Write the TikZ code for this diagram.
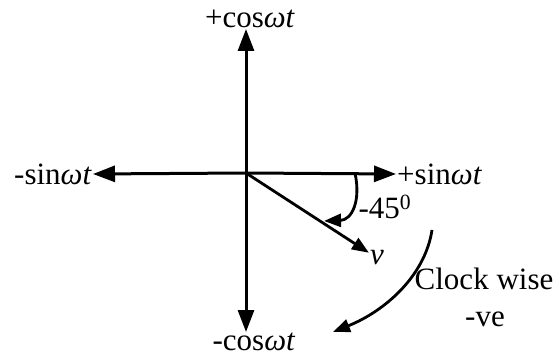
\documentclass[tikz,border=0pt]{standalone}
\usepackage{fontspec}
\setmainfont{Liberation Serif}
\usepackage{tikz}
\usetikzlibrary{arrows.meta,positioning,calc}

\begin{document}
\begin{tikzpicture}[x=1pt,y=1pt,
    axis/.style={line width=3pt,-{Triangle[length=22pt,width=16pt]}},
    turn/.style={line width=2.8pt,-{Triangle[length=17pt,width=13pt]}},
    lbl/.style={font=\fontsize{31}{34}\selectfont,inner sep=1pt}]
    \useasboundingbox (0,0) rectangle (556,356);

    % origin
    \coordinate (O) at (246,183);

    % axis labels
    \node[lbl,anchor=south] (pcos) at (250,327) {+cos\textit{ωt}};
    \node[lbl,anchor=north] (mcos) at (254,24) {-cos\textit{ωt}};
    \node[lbl,anchor=east] (msin) at (93,182) {-sin\textit{ωt}};
    \node[lbl,anchor=west] (psin) at (396,182) {+sin\textit{ωt}};

    % axes
    \draw[axis] (O) -- (O |- pcos.south);
    \draw[axis] (O) -- (O |- mcos.north);
    \draw[axis] (O) -- (msin.east);
    \draw[axis] (O) -- (psin.west);

    % phasor v
    \node[lbl] (v) at (377,98) {\textit{v}};
    \draw[turn] (O) -- (v);

    % angle -45
    \coordinate (a1) at (355,183);
    \coordinate (a2) at (324,135);
    \draw[turn] (a1) .. controls (361,155) and (352,136) .. (a2);
    \node[lbl] (ang) at (385,149) {-45\textsuperscript{0}};

    % clockwise arc
    \coordinate (c1) at (432,126);
    \coordinate (c2) at (333,24);
    \draw[turn] (c1) .. controls (425,80) and (385,45) .. (c2);
    \node[lbl] (cw) at (484,77) {Clock wise};
    \node[lbl] (neg) at (485,37) {-ve};
\end{tikzpicture}
\end{document}
